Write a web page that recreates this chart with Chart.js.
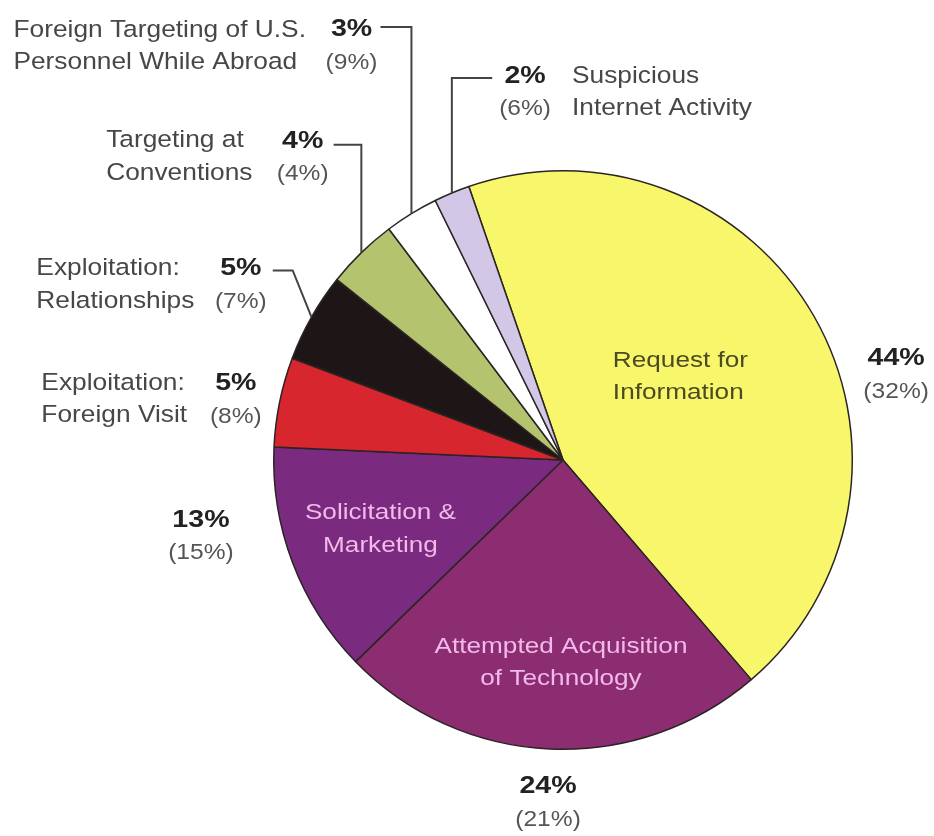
<!DOCTYPE html>
<html>
<head>
<meta charset="utf-8">
<script src="https://cdn.jsdelivr.net/npm/chart.js@4/dist/chart.umd.min.js"></script>
<style>
  html, body { margin: 0; padding: 0; background: #fff; }
  #wrap { width: 934px; height: 836px; }
</style>
</head>
<body>
<div id="wrap"><canvas id="pieChart" width="934" height="836"></canvas></div>
<script>
// data
const categories = [
    ["Request for", "Information"],
    ["Attempted Acquisition", "of Technology"],
    ["Solicitation &", "Marketing"],
    ["Exploitation:", "Foreign Visit"],
    ["Exploitation:", "Relationships"],
    ["Targeting at", "Conventions"],
    ["Foreign Targeting of U.S.", "Personnel While Abroad"],
    ["Suspicious", "Internet Activity"]
];
const sharePct = [44, 24, 13, 5, 5, 4, 3, 2];
const priorPct = [32, 21, 15, 8, 7, 4, 9, 6];
const sliceColors = ['#f8f76c', '#8c2d72', '#7a2a7f', '#d7262d', '#1e1517', '#b4c36d', '#ffffff', '#d3c7e7'];

// label layout, offsets in px from pie centre for a 290px radius
// name: where the category text goes (inside = drawn on the slice)
// pct: centre of the "xx%" / "(yy%)" block; lead: start of leader line
const labelLayout = [
    { name: [50, -100], nameAlign: 'left', inside: true, ink: '#4c4a22', pct: [334, -102] },
    { name: [-2, 187], nameAlign: 'center', inside: true, ink: '#f2b9e9', pct: [-15, 327] },
    { name: [-183, 53], nameAlign: 'center', inside: true, ink: '#f2b9e9', pct: [-363, 60] },
    { name: [-523, -77], nameAlign: 'left', pct: [-328, -77] },
    { name: [-528, -192], nameAlign: 'left', pct: [-323, -192], lead: [-291, -190], elbow: [-271, -190] },
    { name: [-458, -320], nameAlign: 'left', pct: [-261, -320], lead: [-230, -316], elbow: 'v' },
    { name: [-551, -431], nameAlign: 'left', pct: [-212, -432], lead: [-183, -434], elbow: 'v' },
    { name: [9, -385], nameAlign: 'left', pct: [-38, -385], lead: [-71, -383], elbow: 'v' }
];

const FONT = '"Liberation Sans", Arial, Helvetica, sans-serif';

// the original lettering is a bit wider than Arial
function wideText(ctx, text, x, y, align, sx) {
    ctx.save();
    ctx.translate(x, y);
    ctx.scale(sx, 1);
    ctx.textAlign = align;
    ctx.fillText(text, 0, 0);
    ctx.restore();
}

const labelPlugin = {
    id: 'pieLabels',
    afterDatasetsDraw(chart) {
        const ctx = chart.ctx;
        const arcs = chart.getDatasetMeta(0).data;
        const cx = arcs[0].x, cy = arcs[0].y, R = arcs[0].outerRadius;
        const k = R / 290;
        const at = p => [cx + p[0] * k, cy + p[1] * k];
        const lineH = 32.5 * k;

        ctx.save();
        ctx.textBaseline = 'middle';
        labelLayout.forEach((lay, i) => {
            // category name
            const [nx, ny] = at(lay.name);
            ctx.font = (lay.inside ? 23 : 24) * k + 'px ' + FONT;
            ctx.fillStyle = lay.inside ? lay.ink : '#474747';
            const sx = lay.inside ? 1.14 : 1.1;
            categories[i].forEach((t, j) => wideText(ctx, t, nx, ny + j * lineH, lay.nameAlign, sx));

            // percentages
            const [px, py] = at(lay.pct);
            ctx.fillStyle = '#222';
            ctx.font = 'bold ' + 24.5 * k + 'px ' + FONT;
            wideText(ctx, sharePct[i] + '%', px, py, 'center', 1.17);
            ctx.fillStyle = '#555';
            ctx.font = 22 * k + 'px ' + FONT;
            wideText(ctx, '(' + priorPct[i] + '%)', px, py + lineH + 1, 'center', 1.12);

            // leader line to the rim at the slice's mid angle
            if (lay.lead) {
                const a = arcs[i];
                const mid = (a.startAngle + a.endAngle) / 2;
                const rx = cx + Math.cos(mid) * R;
                const ry = cy + Math.sin(mid) * R;
                const [lx, ly] = at(lay.lead);
                ctx.strokeStyle = '#444';
                ctx.lineWidth = 2;
                ctx.beginPath();
                ctx.moveTo(lx, ly);
                if (lay.elbow === 'v') {
                    ctx.lineTo(rx, ly);
                } else {
                    const [ex, ey] = at(lay.elbow);
                    ctx.lineTo(ex, ey);
                }
                ctx.lineTo(rx, ry);
                ctx.stroke();
            }
        });
        ctx.restore();
    }
};

new Chart(document.getElementById('pieChart').getContext('2d'), {
    type: 'pie',
    data: {
        labels: categories.map(c => c.join(' ')),
        datasets: [{
            data: sharePct,
            backgroundColor: sliceColors,
            borderColor: '#2b2424',
            borderWidth: 1.5
        }]
    },
    options: {
        responsive: false,
        animation: false,
        rotation: -19,
        layout: { padding: { left: 273, right: 81, top: 170, bottom: 86 } },
        plugins: {
            legend: { display: false },
            tooltip: { enabled: false }
        }
    },
    plugins: [labelPlugin]
});
</script>
</body>
</html>
